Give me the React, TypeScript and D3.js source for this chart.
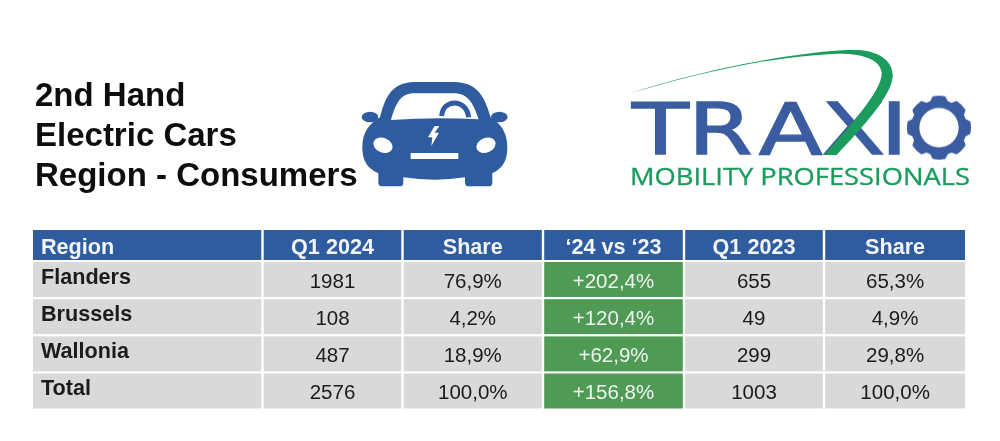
import { useRef, useEffect } from 'react';
import * as d3 from 'd3';

const TITLE_LINES = ['2nd Hand', 'Electric Cars', 'Region - Consumers'];

const HEADERS = ['Region', 'Q1 2024', 'Share', '‘24 vs ‘23', 'Q1 2023', 'Share'];
const REGIONS = ['Flanders', 'Brussels', 'Wallonia', 'Total'];
const Q1_2024 = ['1981', '108', '487', '2576'];
const SHARE_2024 = ['76,9%', '4,2%', '18,9%', '100,0%'];
const CHANGE = ['+202,4%', '+120,4%', '+62,9%', '+156,8%'];
const Q1_2023 = ['655', '49', '299', '1003'];
const SHARE_2023 = ['65,3%', '4,9%', '29,8%', '100,0%'];

const BLUE = '#2f5c9f';
const LOGO_BLUE = '#3a5ca0';
const LOGO_GREEN = '#1a9c5b';
const GREY = '#d9d9d9';
const GREEN = '#4f9a55';
const FONT = '"Liberation Sans", Arial, sans-serif';

// column edges in px, first column is the wide one
const COL_EDGES = [33, 262.5, 402.5, 543, 684, 824, 965];
const GAP = 2.4;

export default function App() {
  const svgRef = useRef<SVGSVGElement>(null);

  useEffect(() => {
    const root = d3.select(svgRef.current);
    root.selectAll('*').remove();

    // the source is a video frame, everything is a bit soft
    root.append('defs').append('filter')
      .attr('id', 'soft')
      .append('feGaussianBlur').attr('stdDeviation', 0.45);

    root.append('rect').attr('width', 1000).attr('height', 441).attr('fill', '#fff');
    const svg = root.append('g').attr('filter', 'url(#soft)');

    // Title
    const title = svg.append('g')
      .attr('font-family', FONT)
      .attr('font-weight', 700)
      .attr('font-size', 33)
      .attr('fill', '#111');
    const titleY = d3.scalePoint().domain(TITLE_LINES).range([106, 186]);
    TITLE_LINES.forEach(line => {
      title.append('text').attr('x', 35).attr('y', titleY(line)!).text(line);
    });

    // Car icon, path coords are in 3x crop units
    const car = svg.append('g').attr('transform', 'translate(340,60) scale(0.3333)');
    car.append('path')
      .attr('fill', BLUE)
      .attr('d', 'M120,172 C132,130 145,66 225,66 L340,66 C425,66 438,130 452,172 C480,190 502,215 502,262 C502,300 490,325 457,340 L457,368 Q457,379 445,379 L387,379 Q375,379 375,368 L375,352 Q285,366 190,352 L190,368 Q190,379 178,379 L127,379 Q115,379 115,368 L115,340 C80,325 67,300 67,262 C67,215 90,190 120,172 Z');
    car.append('ellipse').attr('cx', 90).attr('cy', 171).attr('rx', 25).attr('ry', 16).attr('fill', BLUE);
    car.append('ellipse').attr('cx', 478).attr('cy', 171).attr('rx', 25).attr('ry', 16).attr('fill', BLUE);
    car.append('path')
      .attr('fill', '#fff')
      .attr('d', 'M153,180 C168,130 180,100 225,100 L340,100 C385,100 400,130 416,178 Q285,170 153,180 Z');
    car.append('path')
      .attr('fill', 'none')
      .attr('stroke', BLUE)
      .attr('stroke-width', 15)
      .attr('d', 'M305,168 C308,115 380,115 386,172');
    car.append('ellipse').attr('cx', 129).attr('cy', 256).attr('rx', 30).attr('ry', 22)
      .attr('transform', 'rotate(22 129 256)').attr('fill', '#fff');
    car.append('ellipse').attr('cx', 438).attr('cy', 256).attr('rx', 30).attr('ry', 22)
      .attr('transform', 'rotate(-22 438 256)').attr('fill', '#fff');
    car.append('rect').attr('x', 212).attr('y', 279).attr('width', 143).attr('height', 18).attr('fill', '#fff');
    car.append('path')
      .attr('fill', '#fff')
      .attr('d', 'M284,198 L264,232 L277,232 L274,258 L297,218 L284,218 L298,198 Z');

    // Logo, same crop units. Wordmark is one text, stretched 1.3x with a position per glyph
    const logo = svg.append('g').attr('transform', 'translate(620,40) scale(0.3333)');
    logo.append('text')
      .attr('transform', 'scale(1.3,1)')
      .attr('x', '28 157 320 465 601')
      .attr('y', 343)
      .attr('font-family', '"DejaVu Sans", sans-serif')
      .attr('font-size', 215)
      .attr('fill', LOGO_BLUE)
      .attr('stroke', LOGO_BLUE)
      .attr('stroke-width', 4)
      .text('TRAXI');
    logo.append('path')
      .attr('fill', LOGO_GREEN)
      .attr('d', 'M35,158 C250,90 500,40 680,30 C770,25 822,60 818,112 C812,170 730,260 650,345 L612,345 C680,270 790,150 785,97 C780,55 720,40 650,41 C450,50 250,95 35,158 Z');

    const gear = logo.append('g').attr('transform', 'translate(957,263)').attr('fill', LOGO_BLUE);
    gear.append('path').attr('d', d3.arc()({ innerRadius: 59, outerRadius: 84, startAngle: 0, endAngle: Math.PI * 2 })!);
    d3.range(8).forEach(i => {
      gear.append('path')
        .attr('transform', `rotate(${i * 45})`)
        .attr('d', 'M-27,-78 L-19,-94 Q0,-98 19,-94 L27,-78 Z');
    });

    svg.append('text')
      .attr('x', 630).attr('y', 185)
      .attr('font-family', '"Open Sans", sans-serif')
      .attr('font-size', 23)
      .attr('fill', LOGO_GREEN)
      .attr('stroke', LOGO_GREEN)
      .attr('stroke-width', 0.3)
      .attr('textLength', 340)
      .attr('lengthAdjust', 'spacingAndGlyphs')
      .text('MOBILITY PROFESSIONALS');

    // Table
    const columns = [REGIONS, Q1_2024, SHARE_2024, CHANGE, Q1_2023, SHARE_2023];
    const y = d3.scaleBand().domain(REGIONS).range([262, 408.5]).paddingInner(0.06).paddingOuter(0);
    const table = svg.append('g').attr('font-family', FONT);

    columns.forEach((col, c) => {
      const x0 = COL_EDGES[c] + (c ? GAP / 2 : 0);
      const x1 = COL_EDGES[c + 1] - (c < 5 ? GAP / 2 : 0);
      const cx = (x0 + x1) / 2;

      table.append('rect')
        .attr('x', x0).attr('y', 230).attr('width', x1 - x0).attr('height', 30)
        .attr('fill', BLUE);
      table.append('text')
        .attr('x', c ? cx : 41).attr('y', 253.5)
        .attr('text-anchor', c ? 'middle' : 'start')
        .attr('font-size', 21.6).attr('font-weight', 700).attr('fill', '#f2f5fa')
        .text(HEADERS[c]);

      col.forEach((value, r) => {
        const rowY = y(REGIONS[r])!;
        table.append('rect')
          .attr('x', x0).attr('y', rowY).attr('width', x1 - x0).attr('height', y.bandwidth())
          .attr('fill', c === 3 ? GREEN : GREY);
        table.append('text')
          .attr('x', c ? cx : 41)
          .attr('y', rowY + (c ? 25.7 : 21.8))
          .attr('text-anchor', c ? 'middle' : 'start')
          .attr('font-size', c ? 20.5 : 21.6)
          .attr('font-weight', c ? 400 : 700)
          .attr('fill', c === 3 ? '#eef6ee' : '#1a1a1a')
          .text(value);
      });
    });
  }, []);

  return <svg ref={svgRef} width={1000} height={441} style={{ position: 'absolute', left: 0, top: 0 }} />;
}
